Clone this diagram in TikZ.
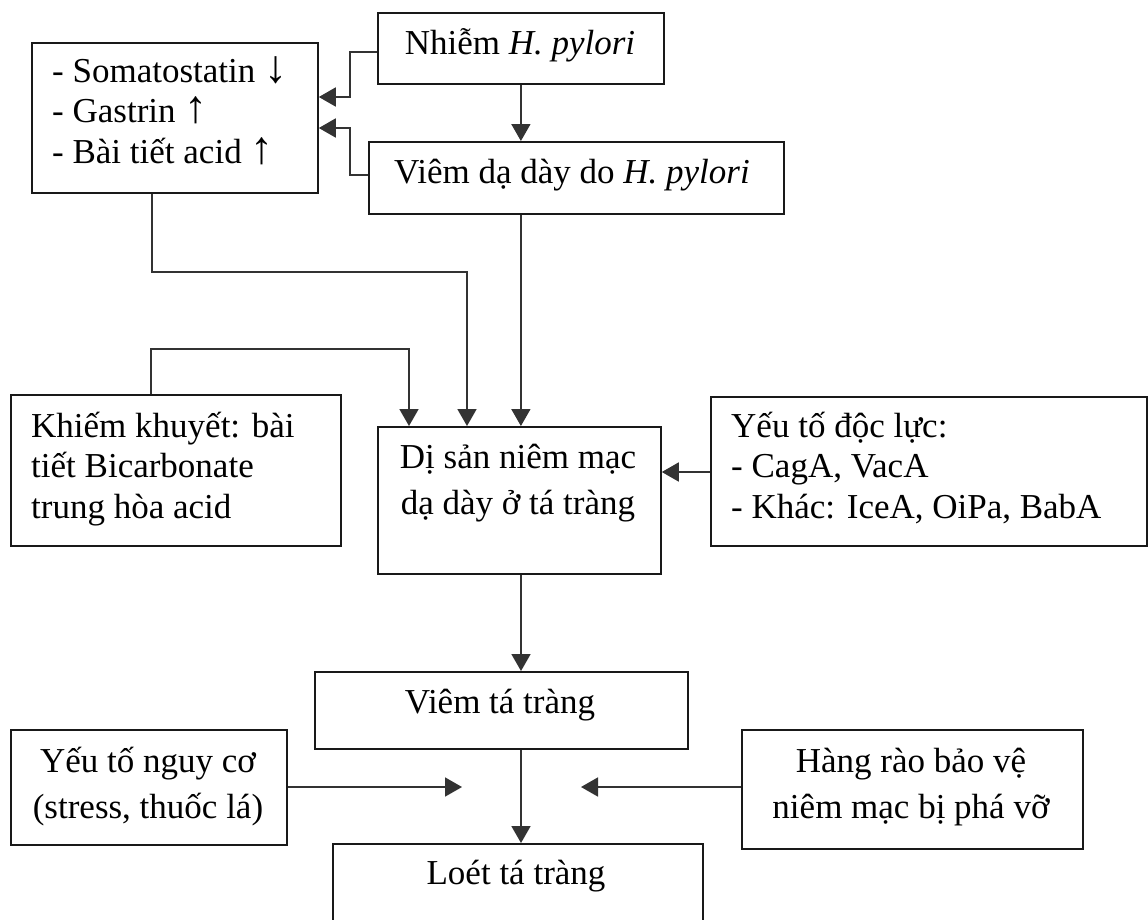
\documentclass[tikz,border=0pt]{standalone}
\usepackage{fontspec}
\setmainfont{Liberation Serif}
\usetikzlibrary{arrows.meta}
\newcommand{\bigarr}[1]{{\fontsize{46}{40}\selectfont #1}}
\begin{document}
\begin{tikzpicture}[x=1pt,y=-1pt,
  box/.style={draw=black!90, line width=1.8pt, inner sep=0pt, anchor=north west},
  txt/.style={inner sep=0pt, font=\fontsize{35}{40.5}\selectfont},
  txtwide/.style={inner sep=0pt, font=\fontsize{35}{45.5}\selectfont},
  conn/.style={draw=black!80, line width=1.8pt},
  arr/.style={conn, -{Triangle[length=17pt,width=19pt]}}]
\clip (0,0) rectangle (1148,919);
\fill[white] (0,0) rectangle (1148,919);
% boxes
\node[box, minimum width=286pt, minimum height=150pt] (A) at (31,42) {};
\node[box, minimum width=286pt, minimum height=71pt] (B) at (377,12) {};
\node[box, minimum width=415pt, minimum height=72pt] (C) at (368,141) {};
\node[box, minimum width=330pt, minimum height=151pt] (D) at (10,394) {};
\node[box, minimum width=283pt, minimum height=147pt] (E) at (377,426) {};
\node[box, minimum width=436pt, minimum height=149pt] (F) at (710,396) {};
\node[box, minimum width=373pt, minimum height=77pt] (G) at (314,671) {};
\node[box, minimum width=370pt, minimum height=82pt] (H) at (332,843) {};
\node[box, minimum width=276pt, minimum height=115pt] (I) at (10,729) {};
\node[box, minimum width=341pt, minimum height=119pt] (J) at (741,729) {};
% texts (multi-line: base = last line)
\node[txt, anchor=base west, align=left] (At) at (52,163) {- Somatostatin \bigarr{↓}\\- Gastrin \bigarr{↑}\\- Bài tiết acid \bigarr{↑}};
\node[txt, anchor=base] (Bt) at (520,54) {Nhiễm \textit{H. pylori}};
\node[txt, anchor=base] (Ct) at (572,183) {Viêm dạ dày do \textit{H. pylori}};
\node[txt, anchor=base west, align=left] (Dt) at (31,518) {Khiếm khuyết: bài\\tiết Bicarbonate\\trung hòa acid};
\node[txtwide, anchor=base, align=center] (Et) at (518,514) {Dị sản niêm mạc\\dạ dày ở tá tràng};
\node[txt, anchor=base west, align=left] (Ft) at (731,518) {Yếu tố độc lực:\\- CagA, VacA\\- Khác: IceA, OiPa, BabA};
\node[txt, anchor=base] (Gt) at (500,713) {Viêm tá tràng};
\node[txt, anchor=base] (Ht) at (516,884) {Loét tá tràng};
\node[txtwide, anchor=base, align=center] (It) at (148,818) {Yếu tố nguy cơ\\(stress, thuốc lá)};
\node[txtwide, anchor=base, align=center] (Jt) at (911,818) {Hàng rào bảo vệ\\niêm mạc bị phá vỡ};
% bend points
\coordinate (b1) at (350,52);  \coordinate (b2) at (350,97);
\coordinate (c1) at (350,175); \coordinate (c2) at (350,128);
\coordinate (a1) at (152,272); \coordinate (a2) at (467,272);
\coordinate (d1) at (151,349); \coordinate (d2) at (409,349);
\coordinate (f1) at (0,472);
\coordinate (x521) at (521,0);
\coordinate (i1) at (462,787);
\coordinate (j1) at (581,787);
% connectors
\draw[arr] (B.west |- b1) -- (b1) -- (b2) -- (A.east |- b2);
\draw[arr] (C.west |- c1) -- (c1) -- (c2) -- (A.east |- c2);
\draw[arr] (B.south) -- (C.north -| B.south);
\draw[arr] (C.south -| B.south) -- (E.north -| B.south);
\draw[arr] (A.south -| a1) -- (a1) -- (a2) -- (E.north -| a2);
\draw[arr] (D.north -| d1) -- (d1) -- (d2) -- (E.north -| d2);
\draw[arr] (F.west |- f1) -- (E.east |- f1);
\draw[arr] (E.south -| x521) -- (G.north -| x521);
\draw[arr] (G.south -| x521) -- (H.north -| x521);
\draw[arr] (I.east |- i1) -- (i1);
\draw[arr] (J.west |- j1) -- (j1);
\end{tikzpicture}
\end{document}
